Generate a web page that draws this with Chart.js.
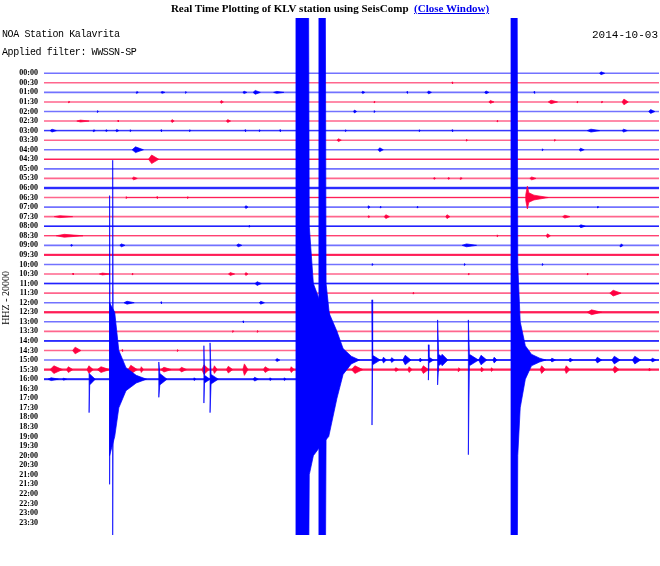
<!DOCTYPE html>
<html lang="en">
<head>
<meta charset="UTF-8">
<title>Real Time Plotting of KLV station using SeisComp</title>
<script src="https://cdn.jsdelivr.net/npm/chart.js"></script>
<style>
  body { margin: 0; background: #fff; }
  #wrap { position: relative; width: 660px; height: 566px; overflow: hidden; }
  #heli { position: absolute; left: 0; top: 0; }
  .txt { position: absolute; white-space: pre; color: #000; }
  #heading { left: 0; top: 2px; width: 660px; text-align: center; font: bold 11px "Liberation Serif", serif; line-height: 13px; }
  #heading a { color: #0000ee; }
  #station { left: 2px; top: 29px; font: 10px "Liberation Mono", monospace; letter-spacing: -0.4px; line-height: 12px; }
  #filter { left: 2px; top: 47px; font: 10px "Liberation Mono", monospace; letter-spacing: -0.4px; line-height: 12px; }
  #date { right: 2px; top: 29px; font: 11px "Liberation Mono", monospace; line-height: 12px; }
</style>
</head>
<body>
<div id="wrap">
  <canvas id="heli" width="660" height="566"></canvas>
  <div class="txt" id="heading">Real Time Plotting of KLV station using SeisComp &nbsp;<a href="#">(Close Window)</a></div>
  <div class="txt" id="station">NOA Station Kalavrita</div>
  <div class="txt" id="filter">Applied filter: WWSSN-SP</div>
  <div class="txt" id="date">2014-10-03</div>
</div>
<script>
// one helicorder line = 30 minutes, x in minutes, y in line index (0 = 00:00)
var timeLabels = ['00:00','00:30','01:00','01:30','02:00','02:30','03:00','03:30','04:00','04:30',
  '05:00','05:30','06:00','06:30','07:00','07:30','08:00','08:30','09:00','09:30',
  '10:00','10:30','11:00','11:30','12:00','12:30','13:00','13:30','14:00','14:30',
  '15:00','15:30','16:00','16:30','17:00','17:30','18:00','18:30','19:00','19:30',
  '20:00','20:30','21:00','21:30','22:00','22:30','23:00','23:30'];
var componentLabel = 'HHZ - 20000';
var recordedLines = 33;      // 00:00 .. 16:00
var lastSampleMinute = 12.3; // data stops here on the 16:00 line

// background noise: [line, from min, to min, half amplitude]
var noiseBands = [
  [6, 0, 30, 0.05], [9, 0, 30, 0.07], [12, 0, 30, 0.13], [13, 4, 30, 0.05],
  [16, 0, 30, 0.07], [17, 0, 30, 0.03], [19, 0, 30, 0.11], [22, 0, 30, 0.08],
  [25, 0, 30, 0.12], [28, 0, 30, 0.09], [30, 14.5, 30, 0.1], [31, 0, 30, 0.12],
  [32, 0, 12.3, 0.1]
];

// small events: [line, onset min, amplitude, duration min]
var smallEvents = [
  [0, 27.1, 0.15, 0.25], [1, 19.9, 0.1, 0.05],
  [2, 4.5, 0.1, 0.1], [2, 5.7, 0.1, 0.2], [2, 6.9, 0.1, 0.05], [2, 9.7, 0.12, 0.2], [2, 10.2, 0.2, 0.35],
  [2, 11.2, 0.1, 0.5], [2, 15.5, 0.12, 0.15], [2, 17.7, 0.1, 0.05], [2, 18.7, 0.15, 0.2], [2, 21.5, 0.15, 0.2], [2, 23.9, 0.1, 0.05],
  [3, 1.2, 0.1, 0.05], [3, 8.6, 0.15, 0.15], [3, 16.1, 0.1, 0.05], [3, 21.7, 0.15, 0.25], [3, 24.6, 0.18, 0.45],
  [3, 26.0, 0.1, 0.05], [3, 27.2, 0.1, 0.05], [3, 28.2, 0.3, 0.3],
  [4, 2.6, 0.1, 0.05], [4, 15.1, 0.15, 0.15], [4, 16.1, 0.1, 0.05], [4, 29.5, 0.2, 0.3],
  [5, 1.6, 0.1, 0.6], [5, 3.6, 0.1, 0.05], [5, 6.2, 0.15, 0.15], [5, 8.9, 0.15, 0.2], [5, 22.1, 0.1, 0.05],
  [6, 0.3, 0.15, 0.3], [6, 2.4, 0.1, 0.1], [6, 3.0, 0.1, 0.1], [6, 3.5, 0.12, 0.15], [6, 4.2, 0.1, 0.05],
  [6, 5.7, 0.1, 0.05], [6, 7.1, 0.1, 0.05], [6, 9.8, 0.1, 0.05], [6, 10.5, 0.1, 0.05], [6, 11.5, 0.1, 0.05],
  [6, 14.7, 0.1, 0.05], [6, 18.3, 0.1, 0.05], [6, 19.9, 0.1, 0.05], [6, 26.5, 0.15, 0.6], [6, 28.2, 0.15, 0.25],
  [7, 14.3, 0.15, 0.2], [7, 20.6, 0.1, 0.05], [7, 24.9, 0.1, 0.05],
  [8, 4.3, 0.3, 0.55], [8, 16.3, 0.2, 0.25], [8, 24.3, 0.1, 0.05], [8, 26.1, 0.15, 0.25],
  [9, 5.1, 0.45, 0.5],
  [11, 4.3, 0.15, 0.25], [11, 19.0, 0.1, 0.1], [11, 19.7, 0.1, 0.1], [11, 20.3, 0.1, 0.1], [11, 23.7, 0.15, 0.3],
  [13, 4.0, 0.1, 0.05], [13, 5.5, 0.1, 0.05], [13, 7.0, 0.1, 0.05],
  [14, 9.8, 0.15, 0.15], [14, 15.8, 0.15, 0.1], [14, 16.4, 0.1, 0.05], [14, 18.2, 0.1, 0.05], [14, 27.0, 0.1, 0.05],
  [15, 0.5, 0.1, 0.9], [15, 15.8, 0.1, 0.1], [15, 16.6, 0.2, 0.25], [15, 19.6, 0.2, 0.2], [15, 25.3, 0.15, 0.35],
  [16, 10.0, 0.1, 0.05], [16, 26.1, 0.15, 0.3],
  [17, 0.6, 0.15, 1.3], [17, 22.1, 0.1, 0.05], [17, 24.5, 0.2, 0.2],
  [18, 1.3, 0.1, 0.1], [18, 3.7, 0.15, 0.25], [18, 9.4, 0.15, 0.25], [18, 20.4, 0.15, 0.7], [18, 28.1, 0.15, 0.15],
  [20, 16.0, 0.1, 0.05], [20, 20.5, 0.1, 0.05], [20, 24.3, 0.1, 0.05],
  [21, 1.4, 0.1, 0.05], [21, 2.7, 0.1, 0.5], [21, 4.3, 0.1, 0.05], [21, 9.0, 0.15, 0.3], [21, 9.8, 0.15, 0.15],
  [21, 20.7, 0.1, 0.05], [21, 26.5, 0.1, 0.05],
  [22, 10.3, 0.2, 0.3],
  [23, 18.0, 0.1, 0.05], [23, 27.6, 0.3, 0.55],
  [24, 3.9, 0.15, 0.5], [24, 5.7, 0.1, 0.05], [24, 10.5, 0.15, 0.25],
  [25, 26.5, 0.25, 0.7], [26, 9.7, 0.1, 0.05], [27, 9.2, 0.1, 0.05], [27, 10.4, 0.1, 0.05],
  [29, 1.4, 0.35, 0.4], [29, 3.8, 0.1, 0.05], [29, 6.5, 0.1, 0.05],
  [30, 11.3, 0.15, 0.2], [30, 16.5, 0.3, 0.2], [30, 16.9, 0.25, 0.2], [30, 17.5, 0.5, 0.4], [30, 18.3, 0.2, 0.15],
  [30, 19.3, 0.6, 0.4], [30, 21.2, 0.5, 0.4], [30, 21.9, 0.3, 0.2], [30, 24.7, 0.2, 0.25], [30, 25.6, 0.2, 0.2],
  [30, 26.9, 0.3, 0.3], [30, 27.7, 0.4, 0.4], [30, 28.7, 0.4, 0.4], [30, 29.6, 0.2, 0.25],
  [31, 0.3, 0.4, 0.6], [31, 1.1, 0.3, 0.3], [31, 2.1, 0.4, 0.3], [31, 2.6, 0.3, 0.6], [31, 4.1, 0.45, 0.45],
  [31, 4.7, 0.3, 0.15], [31, 5.7, 0.25, 0.5], [31, 6.6, 0.25, 0.35], [31, 7.7, 0.5, 0.35], [31, 8.25, 0.4, 0.2],
  [31, 8.9, 0.35, 0.3], [31, 9.7, 0.6, 0.25], [31, 10.7, 0.3, 0.3], [31, 12.0, 0.3, 0.2], [31, 15.0, 0.4, 0.55],
  [31, 17.1, 0.2, 0.2], [31, 17.75, 0.3, 0.2], [31, 18.4, 0.4, 0.35], [31, 19.2, 0.2, 0.1], [31, 20.2, 0.2, 0.1],
  [31, 21.3, 0.25, 0.15], [31, 21.8, 0.2, 0.1], [31, 24.2, 0.4, 0.25], [31, 25.4, 0.4, 0.25], [31, 27.75, 0.35, 0.3],
  [31, 29.5, 0.15, 0.1],
  [32, 0.2, 0.15, 0.5], [32, 0.9, 0.1, 0.2], [32, 7.3, 0.15, 0.1], [32, 10.2, 0.2, 0.25], [32, 11.0, 0.15, 0.1], [32, 11.7, 0.15, 0.1]
];

// large / clipped events: line, onset minute, envelope [dt min, up, down] in line units
var bigEvents = [
  { line: 13, at: 23.5, env: [[0, 0.3, 0.3], [0.08, 1.2, 1.2], [0.15, 0.5, 0.5], [0.4, 0.25, 0.25], [1.1, 0, 0]] },
  { line: 32, at: 2.2, env: [[0, 0.6, 3.5], [0.03, 0.6, 0.6], [0.3, 0, 0]] },
  { line: 32, at: 3.2, env: [[0, 8, 8], [0.25, 7, 6], [0.45, 3, 3], [0.8, 1.2, 1.2], [1.3, 0.4, 0.4], [1.8, 0, 0]] },
  { line: 32, at: 3.2, env: [[0, 19.2, 11], [0.03, 0, 0]] },
  { line: 32, at: 3.35, env: [[0, 22.9, 17], [0.03, 0, 0]] },
  { line: 32, at: 5.6, env: [[0, 1.8, 1.9], [0.05, 0.6, 0.6], [0.4, 0, 0]] },
  { line: 32, at: 7.8, env: [[0, 3.5, 2.5], [0.03, 0.4, 0.4], [0.3, 0, 0]] },
  { line: 32, at: 8.1, env: [[0, 3.8, 3.5], [0.05, 0.5, 0.5], [0.4, 0, 0]] },
  { line: 30, at: 12.29, env: [[0, 50, 30], [0.6, 50, 30], [0.65, 14, 12], [0.85, 8, 10], [1.2, 6, 9], [1.6, 5, 8], [2.0, 3, 4], [2.3, 1.2, 1.5], [2.7, 0.4, 0.4], [3.1, 0, 0]] },
  { line: 30, at: 13.41, env: [[0, 50, 30], [0.3, 50, 30], [0.35, 8, 8], [0.6, 3, 5], [0.9, 1, 1], [1.2, 0, 0]] },
  { line: 30, at: 16.0, env: [[0, 6.3, 6.8], [0.03, 0.5, 0.5], [0.4, 0, 0]] },
  { line: 30, at: 18.75, env: [[0, 1.6, 2.1], [0.03, 0.3, 0.3], [0.25, 0, 0]] },
  { line: 30, at: 19.2, env: [[0, 4.2, 2.6], [0.05, 0.6, 0.6], [0.4, 0, 0]] },
  { line: 30, at: 20.7, env: [[0, 4.2, 9.9], [0.05, 0.6, 0.6], [0.5, 0, 0]] },
  { line: 30, at: 22.78, env: [[0, 50, 30], [0.29, 50, 30], [0.33, 10, 10], [0.45, 4, 5], [0.7, 1.5, 2], [1.0, 0.6, 0.6], [1.4, 0.2, 0.2], [1.7, 0, 0]] }
];

var BLUE = 'rgb(0,0,255)';
var RED = 'rgb(255,0,64)';

// split everything by line parity (even lines blue, odd lines red)
function emptySet() { return { base: [], noise: [], events: [] }; }
var sets = [emptySet(), emptySet()];
function gap(arr) { var last = arr[arr.length - 1]; arr.push({ x: last.x, y: null }); }

for (var i = 0; i < recordedLines; i++) {
  var end = i < recordedLines - 1 ? 30 : lastSampleMinute;
  var b = sets[i % 2].base;
  b.push({ x: 0, y: i }, { x: end, y: i });
  gap(b);
}
noiseBands.forEach(function (n) {
  var arr = sets[n[0] % 2].noise;
  arr.push({ x: n[1], y: n[0] - n[3] }, { x: n[2], y: n[0] - n[3] }, { x: n[2], y: n[0] + n[3] }, { x: n[1], y: n[0] + n[3] });
  gap(arr);
});
smallEvents.forEach(function (e) {
  var arr = sets[e[0] % 2].events;
  var peak = e[1] + e[3] * 0.3;
  arr.push({ x: e[1], y: e[0] }, { x: peak, y: e[0] - e[2] }, { x: e[1] + e[3], y: e[0] },
           { x: peak, y: e[0] + e[2] }, { x: e[1], y: e[0] });
  gap(arr);
});
bigEvents.forEach(function (ev) {
  var arr = sets[ev.line % 2].events;
  ev.env.forEach(function (p) { arr.push({ x: ev.at + p[0], y: ev.line - p[1] }); });
  for (var k = ev.env.length - 1; k >= 0; k--) {
    arr.push({ x: ev.at + ev.env[k][0], y: ev.line + ev.env[k][2] });
  }
  arr.push({ x: ev.at, y: ev.line - ev.env[0][1] });
  gap(arr);
});

function polyDataset(data, color, width) {
  return {
    data: data, borderColor: color, backgroundColor: color, borderWidth: width,
    fill: 'shape', pointRadius: 0, tension: 0, spanGaps: false
  };
}

var datasets = [
  polyDataset(sets[0].events, BLUE, 0.7),
  polyDataset(sets[1].events, RED, 0.7),
  polyDataset(sets[0].noise, 'rgba(0,0,255,0.7)', 0),
  polyDataset(sets[1].noise, 'rgba(255,0,64,0.7)', 0),
  { data: sets[0].base, borderColor: 'rgba(20,20,255,0.6)', borderWidth: 1.6, fill: false, pointRadius: 0, spanGaps: false },
  { data: sets[1].base, borderColor: 'rgba(255,20,80,0.65)', borderWidth: 1.6, fill: false, pointRadius: 0, spanGaps: false }
];

// rotated component label centred on the labelled lines
var axisTitle = {
  id: 'axisTitle',
  afterDraw: function (chart) {
    var ys = chart.scales.y, c = chart.ctx;
    c.save();
    c.translate(6, ys.getPixelForValue((timeLabels.length - 1) / 2));
    c.rotate(-Math.PI / 2);
    c.font = '10px "Liberation Serif"';
    c.fillStyle = '#000';
    c.textAlign = 'center';
    c.textBaseline = 'middle';
    c.fillText(componentLabel, 0, 0);
    c.restore();
  }
};

var ctx = document.getElementById('heli').getContext('2d');
new Chart(ctx, {
  type: 'line',
  data: { datasets: datasets },
  options: {
    responsive: false,
    animation: false,
    layout: { padding: { top: 18, bottom: 31, left: 0, right: 1 } },
    plugins: { legend: { display: false }, tooltip: { enabled: false } },
    scales: {
      x: { type: 'linear', min: 0, max: 30, display: false },
      y: {
        type: 'linear', reverse: true, min: -5.78, max: 48.3,
        afterBuildTicks: function (axis) {
          axis.ticks = timeLabels.map(function (_, i) { return { value: i }; });
        },
        afterFit: function (axis) { axis.width = 44; },
        ticks: {
          autoSkip: false, padding: 6, color: '#000',
          font: { family: 'Liberation Serif', size: 8, weight: 'bold' },
          callback: function (v) { return timeLabels[v]; }
        },
        grid: { display: false, drawTicks: false },
        border: { display: false }
      }
    }
  },
  plugins: [axisTitle]
});
</script>
</body>
</html>
